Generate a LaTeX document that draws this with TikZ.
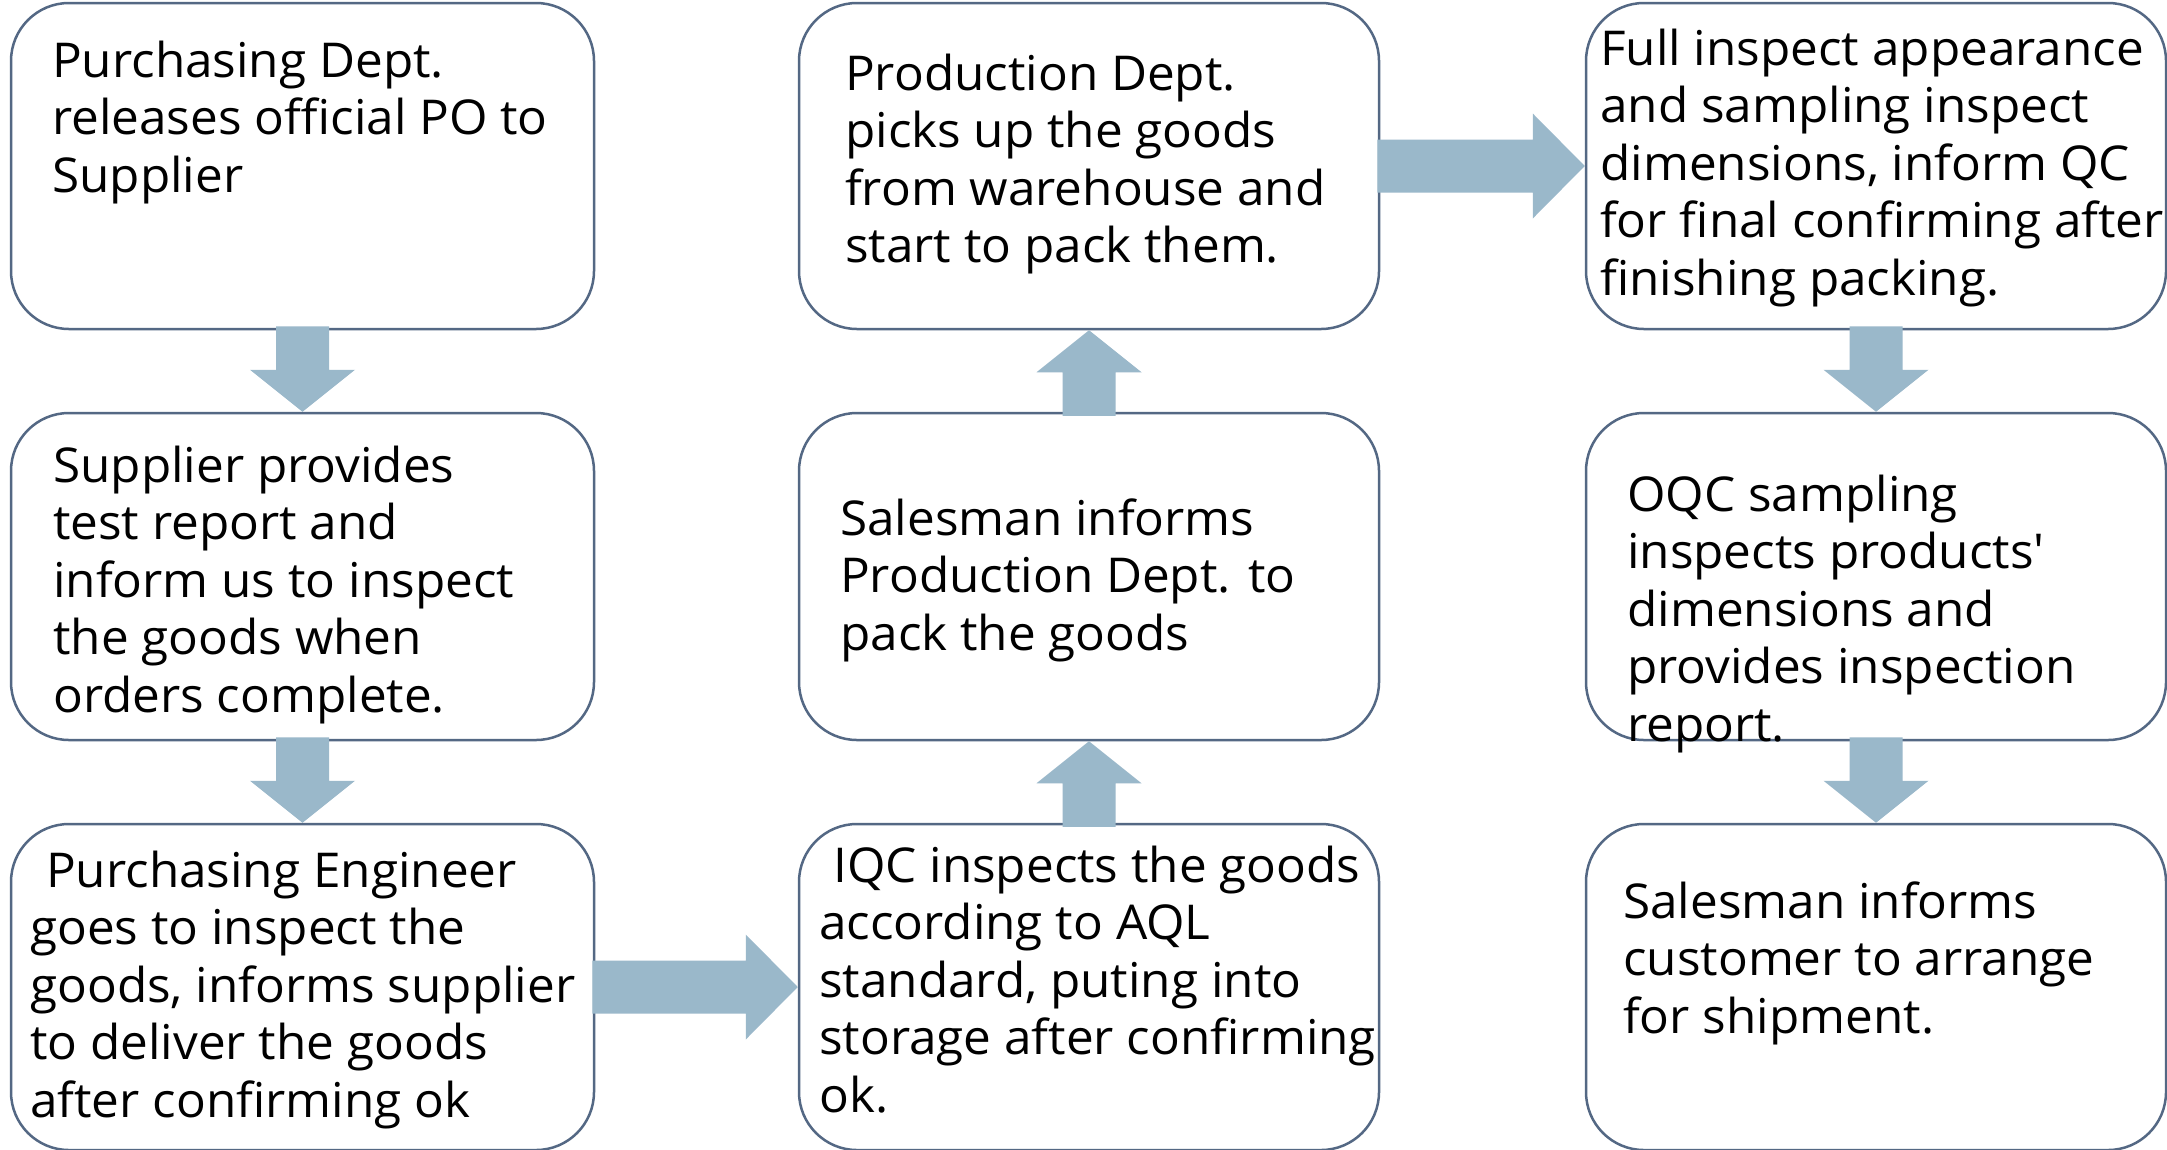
\documentclass[tikz,border=0pt]{standalone}
\usepackage{fontspec}
\setmainfont[FakeStretch=1.03]{Open Sans}
\usetikzlibrary{calc}
\definecolor{boxc}{RGB}{84,104,132}
\definecolor{arrc}{RGB}{154,184,202}
\tikzset{
  stepbox/.style={draw=boxc, line width=2.5pt, rounded corners=58pt, fill=white,
    minimum width=582pt, minimum height=326pt, inner sep=0pt},
  txt/.style={anchor=base west, inner sep=0pt, font=\fontsize{48}{57.5}\selectfont},
  arr/.style={fill=arrc},
}
\newcommand{\txtblock}[1]{\parbox[t]{700pt}{\raggedright #1}}
\newcommand{\darrow}[2]{\fill[arr] ($(#1.south)+(-26.5,-4)$) -- ($(#1.south)+(26.5,-4)$) -- ($(#2.north)+(26.5,-42)$) -- ($(#2.north)+(52.5,-42)$) -- (#2.north) -- ($(#2.north)+(-52.5,-42)$) -- ($(#2.north)+(-26.5,-42)$) -- cycle;}
\newcommand{\uarrow}[2]{\fill[arr] ($(#1.north)+(-26.5,4)$) -- ($(#1.north)+(26.5,4)$) -- ($(#2.south)+(26.5,42)$) -- ($(#2.south)+(52.5,42)$) -- (#2.south) -- ($(#2.south)+(-52.5,42)$) -- ($(#2.south)+(-26.5,42)$) -- cycle;}
\newcommand{\rarrow}[2]{\fill[arr] ($(#1.east)+(-3,-26.5)$) -- ($(#1.east)+(-3,26.5)$) -- ($(#2.west)+(-52,26.5)$) -- ($(#2.west)+(-52,52.5)$) -- (#2.west) -- ($(#2.west)+(-52,-52.5)$) -- ($(#2.west)+(-52,-26.5)$) -- cycle;}
\begin{document}
\begin{tikzpicture}[x=1pt,y=-1pt]
\useasboundingbox (0,0) rectangle (2167,1149);
\clip (0,0) rectangle (2167,1149);
\fill[white] (0,0) rectangle (2167,1149);
% boxes
\node[stepbox, minimum width=583pt] (b1) at (302.5,166) {};
\node[stepbox, minimum width=583pt, minimum height=327pt] (b2) at (302.5,576.5) {};
\node[stepbox, minimum width=583pt] (b3) at (302.5,987) {};
\node[stepbox, minimum width=580pt] (c1) at (1089,166) {};
\node[stepbox, minimum width=580pt, minimum height=327pt] (c2) at (1089,576.5) {};
\node[stepbox, minimum width=580pt] (c3) at (1089,987) {};
\node[stepbox, minimum width=580pt] (d1) at (1876,166) {};
\node[stepbox, minimum width=580pt, minimum height=327pt] (d2) at (1876,576.5) {};
\node[stepbox, minimum width=580pt] (d3) at (1876,987) {};
% arrows
\darrow{b1}{b2}
\darrow{b2}{b3}
\rarrow{b3}{c3}
\uarrow{c3}{c2}
\uarrow{c2}{c1}
\rarrow{c1}{d1}
\darrow{d1}{d2}
\darrow{d2}{d3}
% texts
\node[txt] (t1) at (52,77) {\txtblock{Purchasing Dept.\\releases official PO to\\Supplier}};
\node[txt] (t2) at (53,482) {\txtblock{Supplier provides\\test report and\\inform us to inspect\\the goods when\\orders complete.}};
\node[txt] (t3) at (30,887) {\txtblock{\hspace*{16pt}Purchasing Engineer\\goes to inspect the\\goods, informs supplier\\to deliver the goods\\after confirming ok}};
\node[txt] (t4) at (845,90) {\txtblock{Production Dept.\\picks up the goods\\from warehouse and\\start to pack them.}};
\node[txt] (t5) at (840,535) {\txtblock{Salesman informs\\Production Dept. to\\pack the goods}};
\node[txt] (t6) at (819,882) {\txtblock{\hspace*{14pt}IQC inspects the goods\\according to AQL\\standard, puting into\\storage after confirming\\ok.}};
\node[txt] (t7) at (1600,65) {\txtblock{Full inspect appearance\\and sampling inspect\\dimensions, inform QC\\for final confirming after\\finishing packing.}};
\node[txt] (t8) at (1627,511) {\txtblock{OQC sampling\\inspects products\textquotesingle\\dimensions and\\provides inspection\\report.}};
\node[txt] (t9) at (1623,918) {\txtblock{Salesman informs\\customer to arrange\\for shipment.}};
\end{tikzpicture}
\end{document}
